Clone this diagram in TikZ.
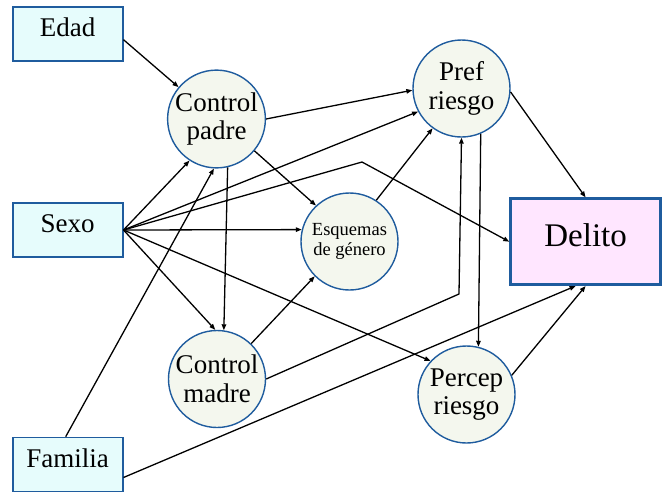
\documentclass[tikz,border=0pt]{standalone}
\usepackage{fontspec}
\setmainfont{Liberation Serif}
\usetikzlibrary{arrows.meta}
\definecolor{bordblue}{RGB}{31,92,158}
\definecolor{boxfill}{RGB}{230,252,252}
\definecolor{circfill}{RGB}{244,247,238}
\definecolor{pinkfill}{RGB}{255,230,255}
\tikzset{
  varbox/.style={draw=bordblue, line width=1.6pt, fill=boxfill, minimum width=110pt, minimum height=54pt, inner sep=0pt, text height=19pt, text depth=14pt, font=\fontsize{27}{29}\selectfont},
  varcirc/.style={circle, draw=bordblue, line width=1.4pt, fill=circfill, minimum size=97pt, inner sep=0pt, align=center, font=\fontsize{27}{28.5}\selectfont},
  smallcirc/.style={varcirc, font=\fontsize{18.5}{20}\selectfont},
  outbox/.style={draw=bordblue, line width=2.6pt, fill=pinkfill, minimum width=150pt, minimum height=86pt, inner sep=0pt, text height=23pt, text depth=13pt, font=\fontsize{33}{35}\selectfont},
  link/.style={line width=1.3pt, -{Triangle[length=6pt,width=4.5pt]}}
}
\begin{document}
\begin{tikzpicture}[x=1pt,y=-1pt]
\useasboundingbox (0,0) rectangle (662,493);
% boxes
\node[varbox] (edad) at (67.7,33.7) {Edad};
\node[varbox] (sexo) at (67.7,230) {Sexo};
\node[varbox] (fam) at (67.7,464.5) {Familia};
\node[outbox] (delito) at (585.6,241.7) {Delito};
% circles
\node[varcirc] (cp) at (216.5,119) {Control\\padre};
\node[varcirc] (pr) at (461.5,88.5) {Pref\\riesgo};
\node[smallcirc] (esq) at (349.5,241.5) {Esquemas\\de género};
\node[varcirc] (cm) at (217,379) {Control\\madre};
\node[varcirc] (pc) at (466.5,394.5) {Percep\\riesgo};
% bend points
\coordinate (b1) at (362,162);
\coordinate (b2) at (459,294);
% connectors
\draw[link] ([yshift=-6pt]edad.east) -- (cp.140);
\draw[link] (cp.east) -- (pr.182);
\draw[link] (cp.-40) -- (esq.133);
\draw[link] (cp.-77) -- (cm.82);
\draw[link] (sexo.east) -- (cp.237);
\draw[link] ([xshift=-2pt]fam.north) -- (cp.267);
\draw[link] (sexo.east) -- (pr.208);
\draw[link] (sexo.east) -- (b1) -- (delito.west);
\draw[link] (sexo.east) -- (esq.166);
\draw[link] (sexo.east) -- (cm.92);
\draw[link] (sexo.east) -- (pc.137);
\draw[link] (esq.57) -- (pr.234);
\draw[link] (cm.46) -- (esq.225);
\draw[link] (cm.east) -- (b2) -- (pr.south);
\draw[link] (pr.-67) -- (pc.76);
\draw[link] (pr.-4) -- (delito.north);
\draw[link] ([yshift=-13pt]fam.east) -- ([xshift=-10pt]delito.south);
\draw[link] (pc.23) -- (delito.south);
\end{tikzpicture}
\end{document}
